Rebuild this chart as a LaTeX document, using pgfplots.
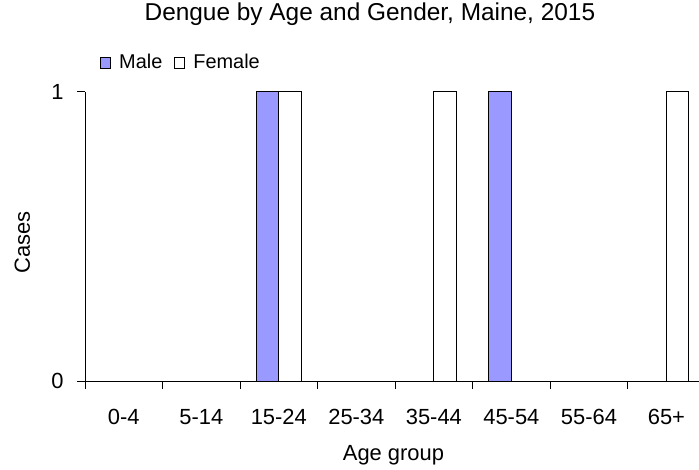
\documentclass[border=0pt]{standalone}
\usepackage{fontspec}
\setmainfont{Liberation Sans}
\usepackage{pgfplots}
\pgfplotsset{compat=1.18}
\definecolor{malebar}{HTML}{9999FF}
\begin{document}
\begin{tikzpicture}
\useasboundingbox (0,0) rectangle (699bp,470bp);
\begin{axis}[
  at={(85bp,89bp)}, anchor=south west,
  scale only axis, width=614bp, height=289bp,
  xmin=-0.5, xmax=7.42, ymin=0, ymax=1,
  axis x line*=bottom, axis y line*=left,
  axis line style={-, line width=1bp, black},
  tick align=outside, major tick length=8bp,
  tick style={black, line width=1bp},
  /pgf/number format/assume math mode=true,
  tick label style={font=\fontsize{22}{26}\selectfont},
  xtick={-0.5,0.5,...,6.5}, xticklabels={},
  extra x ticks={0,1,2,3,4,5,6,7},
  extra x tick labels={0-4,5-14,15-24,25-34,35-44,45-54,55-64,65+},
  extra x tick style={major tick length=0pt, xticklabel style={yshift=-25bp}},
  ytick={0,1},
  yticklabel style={xshift=-10bp},
  title={Dengue by Age and Gender, Maine, 2015},
  title style={at={(axis description cs:0.464,1.228)}, anchor=base, font=\fontsize{24.5}{28}\selectfont},
  xlabel={Age group},
  xlabel style={at={(axis description cs:0.5024,-0.2734)}, anchor=base, font=\fontsize{22}{26}\selectfont},
  ylabel={Cases},
  ylabel style={at={(axis description cs:-0.0896,0.479)}, anchor=base, font=\fontsize{22}{26}\selectfont},
  legend columns=2,
  legend style={draw=none, fill=none, inner sep=0pt, at={(axis description cs:0.0244,1.138)}, anchor=north west,
    font=\fontsize{20}{24}\selectfont, nodes={inner sep=2bp},
    /tikz/every odd column/.append style={column sep=6bp},
    /tikz/every even column/.append style={column sep=10bp}},
  legend image code/.code={\draw[#1, line width=1bp] (0bp,-6bp) rectangle (10bp,5bp);},
]
\addplot[ybar, bar width=0.29, bar shift=-0.145, fill=malebar, draw=black, line width=1bp]
  coordinates {(0,0) (1,0) (2,1) (3,0) (4,0) (5,1) (6,0) (7,0)};
\addlegendentry{Male}
\addplot[ybar, bar width=0.29, bar shift=0.145, fill=white, draw=black, line width=1bp]
  coordinates {(0,0) (1,0) (2,1) (3,0) (4,1) (5,0) (6,0) (7,1)};
\addlegendentry{Female}
\end{axis}
\end{tikzpicture}
\end{document}
